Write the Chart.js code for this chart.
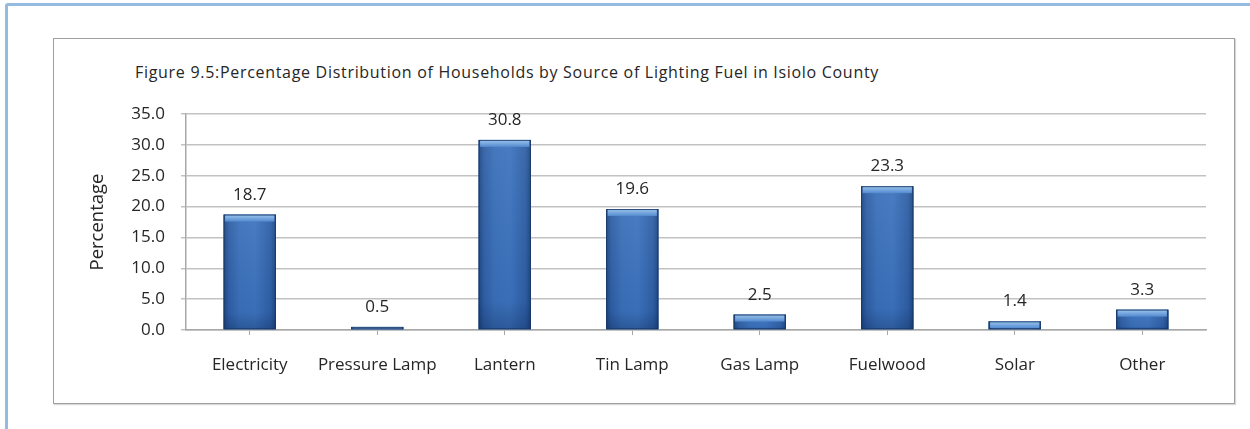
<!DOCTYPE html>
<html>
<head>
<meta charset="utf-8">
<title>Lighting fuel, Isiolo County</title>
<script src="https://cdn.jsdelivr.net/npm/chart.js@4.4.1/dist/chart.umd.min.js"></script>
<style>
  html, body { margin: 0; padding: 0; background: #ffffff; overflow: hidden; }
  #stage { position: relative; width: 1250px; height: 429px; }
  #frame {
    position: absolute; left: 5px; top: 3px; width: 1300px; height: 500px;
    border: 3px solid #95bbe2; border-radius: 3px; box-sizing: border-box;
  }
  #box {
    position: absolute; left: 53px; top: 38px; width: 1182px; height: 366px;
    border: 1px solid #9f9f9f; box-sizing: border-box;
    box-shadow: 1px 1px 1px rgba(0,0,0,0.15);
  }
  #title {
    position: absolute; left: 135px; top: 62px; line-height: 20px;
    font-family: 'Open Sans', sans-serif; font-size: 16px; letter-spacing: 0.7px;
    color: #262626; white-space: nowrap;
  }
  #chart { position: absolute; left: 0; top: 0; }
</style>
</head>
<body>
<div id="stage">
  <div id="frame"></div>
  <div id="box"></div>
  <div id="title">Figure 9.5:Percentage Distribution of Households by Source of Lighting Fuel in Isiolo County</div>
  <canvas id="chart" width="1250" height="429"></canvas>
</div>
<script>
// Sources of lighting fuel and the share of households using each (%)
const categories = ['Electricity', 'Pressure Lamp', 'Lantern', 'Tin Lamp', 'Gas Lamp', 'Fuelwood', 'Solar', 'Other'];
const percentages = [18.7, 0.5, 30.8, 19.6, 2.5, 23.3, 1.4, 3.3];

// Value axis range and tick spacing
const yMin = 0;
const yMax = 35;
const yStep = 5;

const FONT = "'Open Sans', sans-serif";
const TEXT = '#262626';

// Paints each bar as a shaded column: dark side edges, a lighter cap on top
const columnShading = {
  id: 'columnShading',
  afterDatasetsDraw(chart) {
    const ctx = chart.ctx;
    const meta = chart.getDatasetMeta(0);
    meta.data.forEach((bar) => {
      const { x, y, base, width } = bar.getProps(['x', 'y', 'base', 'width'], true);
      const left = x - width / 2;
      const h = base - y;
      if (h <= 0) return;
      ctx.save();
      // body: horizontal shading
      const gx = ctx.createLinearGradient(left, 0, left + width, 0);
      gx.addColorStop(0, '#1f4781');
      gx.addColorStop(0.1, '#2f5fa5');
      gx.addColorStop(0.3, '#3a70b9');
      gx.addColorStop(0.6, '#3d74bf');
      gx.addColorStop(0.9, '#2f5fa5');
      gx.addColorStop(1, '#1f4781');
      ctx.fillStyle = gx;
      ctx.fillRect(left, y, width, h);
      // slight darkening toward the base
      const gy = ctx.createLinearGradient(0, y, 0, base);
      gy.addColorStop(0, 'rgba(255,255,255,0.06)');
      gy.addColorStop(0.85, 'rgba(0,20,60,0.05)');
      gy.addColorStop(1, 'rgba(0,20,60,0.28)');
      ctx.fillStyle = gy;
      ctx.fillRect(left, y, width, h);
      // light cap
      const capH = Math.min(7, h);
      const gc = ctx.createLinearGradient(0, y, 0, y + capH);
      gc.addColorStop(0, '#9cc6ee');
      gc.addColorStop(1, '#5389cf');
      ctx.fillStyle = gc;
      ctx.fillRect(left + 1.5, y, width - 3, capH);
      // outline
      ctx.strokeStyle = 'rgba(25,55,100,0.85)';
      ctx.lineWidth = 1;
      ctx.strokeRect(left + 0.5, y + 0.5, width - 1, h - 1);
      ctx.restore();
    });
  }
};

// Writes each bar's value above it
const valueLabels = {
  id: 'valueLabels',
  afterDatasetsDraw(chart) {
    const ctx = chart.ctx;
    const ds = chart.data.datasets[0];
    const meta = chart.getDatasetMeta(0);
    ctx.save();
    ctx.font = '17px ' + FONT;
    ctx.fillStyle = TEXT;
    ctx.textAlign = 'center';
    ctx.textBaseline = 'alphabetic';
    meta.data.forEach((bar, i) => {
      const { x, y } = bar.getProps(['x', 'y'], true);
      ctx.fillText(ds.data[i].toFixed(1), x, y - 15);
    });
    ctx.restore();
  }
};

new Chart(document.getElementById('chart'), {
  type: 'bar',
  data: {
    labels: categories,
    datasets: [{
      label: 'Percentage',
      data: percentages,
      backgroundColor: '#3a70b9',
      borderWidth: 0,
      barPercentage: 0.41,
      categoryPercentage: 1.0
    }]
  },
  options: {
    responsive: false,
    animation: false,
    devicePixelRatio: 1,
    layout: { padding: { top: 114, bottom: 29, left: 60, right: 44 } },
    plugins: {
      legend: { display: false },
      tooltip: { enabled: false },
      title: { display: false }
    },
    scales: {
      x: {
        afterFit(scale) { scale.height = 70; },
        grid: {
          drawOnChartArea: false,
          drawTicks: true,
          offset: false,
          tickLength: 5,
          color: '#a8a8a8',
          lineWidth: 1
        },
        border: { color: '#a8a8a8', width: 1.5 },
        ticks: {
          color: TEXT,
          font: { family: FONT, size: 17 },
          padding: 20,
          maxRotation: 0,
          autoSkip: false
        }
      },
      y: {
        min: yMin,
        max: yMax,
        afterFit(scale) { scale.width = 126; },
        grid: {
          color: '#c2c2c2',
          lineWidth: 1.5,
          tickLength: 5,
          drawTicks: true
        },
        border: { color: '#a8a8a8', width: 1.5 },
        ticks: {
          stepSize: yStep,
          color: TEXT,
          font: { family: FONT, size: 17 },
          padding: 16,
          callback: (v) => Number(v).toFixed(1)
        },
        title: {
          display: true,
          text: 'Percentage',
          color: TEXT,
          font: { family: FONT, size: 18.5 },
          padding: { top: 27, bottom: 0 }
        }
      }
    }
  },
  plugins: [columnShading, valueLabels]
});
</script>
</body>
</html>
